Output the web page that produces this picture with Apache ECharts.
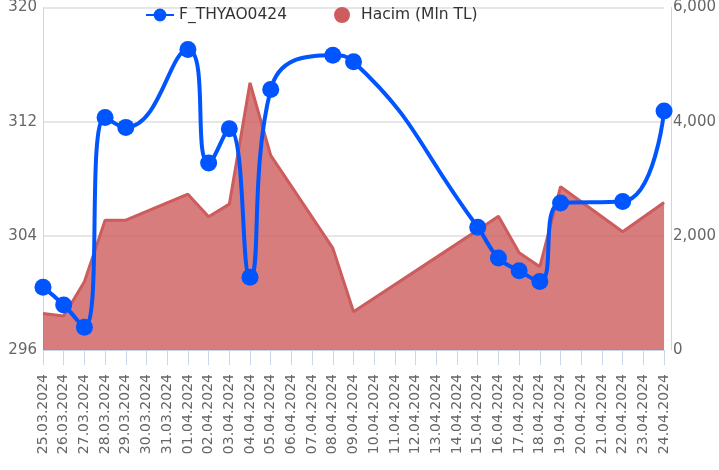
<!DOCTYPE html>
<html>
<head>
<meta charset="utf-8">
<script src="https://cdn.jsdelivr.net/npm/echarts@6/dist/echarts.min.js"></script>
<style>
  html, body { margin: 0; padding: 0; background: #fff; }
  #chart { width: 719px; height: 470px; }
</style>
</head>
<body>
<div id="chart"></div>
<script>
const dates = [
  '25.03.2024', '26.03.2024', '27.03.2024', '28.03.2024', '29.03.2024', '30.03.2024', '31.03.2024',
  '01.04.2024', '02.04.2024', '03.04.2024', '04.04.2024', '05.04.2024', '06.04.2024', '07.04.2024',
  '08.04.2024', '09.04.2024', '10.04.2024', '11.04.2024', '12.04.2024', '13.04.2024', '14.04.2024',
  '15.04.2024', '16.04.2024', '17.04.2024', '18.04.2024', '19.04.2024', '20.04.2024', '21.04.2024',
  '22.04.2024', '23.04.2024', '24.04.2024'
];

// F_THYAO0424 (left axis), null = no trading
const price = [
  300.4, 299.15, 297.6, 312.3, 311.6, null, null,
  317.05, 309.1, 311.5, 301.1, 314.25, null, null,
  316.65, 316.2, null, null, null, null, null,
  304.6, 302.45, 301.55, 300.8, 306.3, null, null,
  306.4, null, 312.75
];

// Hacim (Mln TL) (right axis)
const volume = [
  640, 595, 1195, 2275, 2275, null, null,
  2730, 2335, 2555, 4680, 3410, null, null,
  1785, 670, null, null, null, null, null,
  2100, 2345, 1705, 1460, 2860, null, null,
  2070, null, 2585
];

const priceTicks = { min: 296, max: 320, interval: 8 };
const volumeTicks = { min: 0, max: 6000, interval: 2000 };

const font = "'DejaVu Sans', Verdana, sans-serif";
const axisColor = '#ccd6eb';

const chart = echarts.init(document.getElementById('chart'));

const option = {
  animation: false,
  textStyle: { fontFamily: font },
  legend: {
    left: 140,
    top: 2,
    itemWidth: 28,
    itemHeight: 16,
    itemGap: 47,
    textStyle: { fontFamily: font, fontSize: 15.5, color: '#333' },
    data: [
      { name: 'F_THYAO0424' },
      { name: 'Hacim (Mln TL)', icon: 'circle' }
    ]
  },
  grid: {
    left: 43,
    right: 53,
    top: 7,
    bottom: 120,
    containLabel: false
  },
  xAxis: {
    type: 'category',
    data: dates,
    boundaryGap: false,
    axisLine: { lineStyle: { color: axisColor, width: 1 } },
    axisTick: { show: true, length: 15, interval: 0, lineStyle: { color: axisColor, width: 1 } },
    axisLabel: {
      interval: 0,
      rotate: 90,
      margin: 24,
      color: '#666',
      fontFamily: font,
      fontSize: 14
    },
    splitLine: { show: false }
  },
  yAxis: [
    {
      type: 'value',
      position: 'left',
      min: priceTicks.min,
      max: priceTicks.max,
      interval: priceTicks.interval,
      axisLine: { show: true, lineStyle: { color: axisColor } },
      axisTick: { show: false },
      axisLabel: { color: '#666', fontFamily: font, fontSize: 15, margin: 6 },
      splitLine: { show: true, lineStyle: { color: '#e6e6e6', width: 2 } }
    },
    {
      type: 'value',
      position: 'right',
      offset: 7,
      min: volumeTicks.min,
      max: volumeTicks.max,
      interval: volumeTicks.interval,
      axisLine: { show: true, lineStyle: { color: axisColor } },
      axisTick: { show: false },
      axisLabel: {
        color: '#666',
        fontFamily: font,
        fontSize: 15,
        margin: 2,
        formatter: (v) => v.toLocaleString('en-US')
      },
      splitLine: { show: false }
    }
  ],
  series: [
    {
      name: 'Hacim (Mln TL)',
      type: 'line',
      yAxisIndex: 1,
      data: volume,
      connectNulls: true,
      symbol: 'none',
      z: 1,
      itemStyle: { color: '#cd5c5c' },
      lineStyle: { color: '#cd5c5c', width: 3 },
      areaStyle: { color: '#cd5c5c', opacity: 0.8 }
    },
    {
      name: 'F_THYAO0424',
      type: 'line',
      yAxisIndex: 0,
      data: price,
      connectNulls: true,
      smooth: 0.5,
      symbol: 'circle',
      symbolSize: 17,
      showAllSymbol: true,
      z: 3,
      itemStyle: { color: '#0055ff' },
      lineStyle: { color: '#0055ff', width: 4 }
    }
  ]
};

chart.setOption(option);
</script>
</body>
</html>
